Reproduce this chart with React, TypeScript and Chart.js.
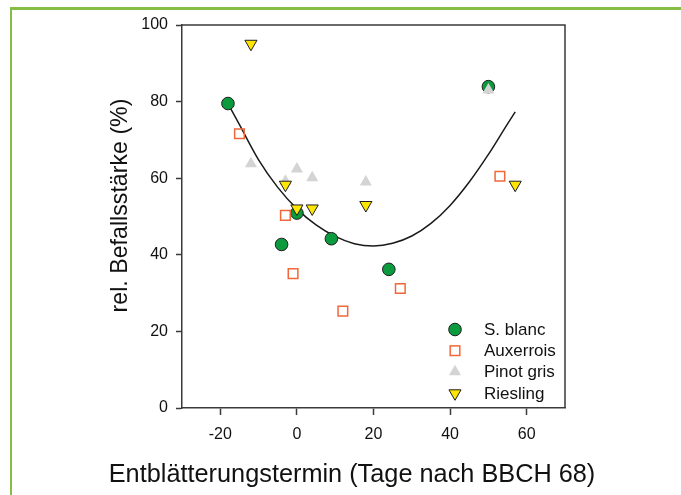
import React, { useEffect, useRef } from 'react';
import { Chart, registerables } from 'chart.js';

Chart.register(...registerables);

// ---- data ----
const sBlancX = [-18, -4, 0, 9, 24, 50];
const sBlancY = [79.5, 42.7, 50.9, 44.2, 36.2, 83.9];
const auxerroisX = [-15, -3, -1, 12, 27, 53];
const auxerroisY = [71.6, 50.3, 35.1, 25.3, 31.2, 60.5];
const pinotGrisX = [-12, -3, 0, 4, 18, 50];
const pinotGrisY = [63.8, 59.2, 62.4, 60.1, 59.0, 83.0];
const rieslingX = [-12, -3, 0, 4, 18, 57];
const rieslingY = [95.1, 58.3, 52.1, 52.1, 53.0, 58.3];
// quadratic regression curve
const fitX = [-18, -15, -10, -5, 0, 5, 10, 15, 20, 25, 30, 35, 40, 45, 50, 55, 57];
const fitY = [79.5, 74, 64.8, 57.6, 52.0, 47.8, 44.8, 42.9, 42.3, 43.0, 44.9, 48.2, 52.9, 59.0, 66.2, 74.2, 77.3];
const xTicks = [-20, 0, 20, 40, 60];
const yTicks = [0, 20, 40, 60, 80, 100];
const seriesNames = ['S. blanc', 'Auxerrois', 'Pinot gris', 'Riesling'];
const xTitle = 'Entblätterungstermin (Tage nach BBCH 68)';
const yTitle = 'rel. Befallsstärke (%)';

const FONT = "'Liberation Sans', Arial, Helvetica, sans-serif";
const AXIS = '#3a3a3a';
const GREEN = '#0b9a3e';
const ORANGE = '#f2673a';
const GRAY = '#d4d4d4';
const YELLOW = '#ffe600';
const OUTLINE = '#1e1e1e';

const pts = (xs: number[], ys: number[]) => xs.map((x, i) => ({ x, y: ys[i] }));

function drawMarker(ctx: CanvasRenderingContext2D, kind: number, x: number, y: number) {
  ctx.save();
  if (kind === 0) {
    ctx.beginPath();
    ctx.arc(x, y, 6.3, 0, Math.PI * 2);
    ctx.fillStyle = GREEN;
    ctx.fill();
    ctx.lineWidth = 1;
    ctx.strokeStyle = OUTLINE;
    ctx.stroke();
  } else if (kind === 1) {
    ctx.lineWidth = 1.5;
    ctx.strokeStyle = ORANGE;
    ctx.strokeRect(x - 4.8, y - 4.8, 9.6, 9.6);
  } else if (kind === 2) {
    const r = 7;
    ctx.beginPath();
    ctx.moveTo(x, y - r);
    ctx.lineTo(x + r * 0.866, y + r / 2);
    ctx.lineTo(x - r * 0.866, y + r / 2);
    ctx.closePath();
    ctx.fillStyle = GRAY;
    ctx.fill();
  } else {
    const r = 7;
    ctx.beginPath();
    ctx.moveTo(x, y + r);
    ctx.lineTo(x + r * 0.866, y - r / 2);
    ctx.lineTo(x - r * 0.866, y - r / 2);
    ctx.closePath();
    ctx.fillStyle = YELLOW;
    ctx.fill();
    ctx.lineWidth = 1;
    ctx.strokeStyle = OUTLINE;
    ctx.stroke();
  }
  ctx.restore();
}

const decorPlugin = {
  id: 'decor',
  afterDraw(chart: any) {
    const { ctx, chartArea } = chart;
    const { left, top, right, bottom } = chartArea;
    ctx.save();
    // box (top and right sides)
    ctx.strokeStyle = AXIS;
    ctx.lineWidth = 1.5;
    ctx.beginPath();
    ctx.moveTo(left, top);
    ctx.lineTo(right, top);
    ctx.lineTo(right, bottom);
    ctx.stroke();

    // legend
    const rowY = [329.5, 350.7, 371.7, 393.3];
    ctx.font = `17px ${FONT}`;
    ctx.fillStyle = '#111';
    ctx.textBaseline = 'middle';
    ctx.textAlign = 'left';
    seriesNames.forEach((name, i) => {
      drawMarker(ctx, i, 455, rowY[i]);
      ctx.fillText(name, 484, rowY[i] + 1);
    });

    // axis titles
    ctx.fillStyle = '#111';
    ctx.font = `25.3px ${FONT}`;
    ctx.textAlign = 'center';
    ctx.textBaseline = 'alphabetic';
    ctx.fillText(xTitle, 352, 482);

    ctx.translate(127, 205.5);
    ctx.rotate(-Math.PI / 2);
    ctx.font = `23.2px ${FONT}`;
    ctx.fillText(yTitle, 0, 0);
    ctx.restore();
  },
};

export default function App() {
  const canvasRef = useRef<HTMLCanvasElement | null>(null);

  useEffect(() => {
    const canvas = canvasRef.current;
    if (!canvas) return;
    const tickFont = { family: FONT, size: 16 };
    const chart = new Chart(canvas, {
      type: 'scatter',
      data: {
        datasets: [
          {
            label: 'fit',
            data: pts(fitX, fitY),
            showLine: true,
            pointRadius: 0,
            borderColor: '#1a1a1a',
            borderWidth: 1.5,
            cubicInterpolationMode: 'monotone',
            order: 5,
          } as any,
          {
            label: seriesNames[0],
            data: pts(sBlancX, sBlancY),
            pointStyle: 'circle',
            pointRadius: 6.3,
            pointBackgroundColor: GREEN,
            pointBorderColor: OUTLINE,
            pointBorderWidth: 1,
            order: 4,
          },
          {
            label: seriesNames[1],
            data: pts(auxerroisX, auxerroisY),
            pointStyle: 'rect',
            pointRadius: 6.8,
            pointBackgroundColor: 'rgba(255,255,255,0)',
            pointBorderColor: ORANGE,
            pointBorderWidth: 1.5,
            order: 3,
          },
          {
            label: seriesNames[2],
            data: pts(pinotGrisX, pinotGrisY),
            pointStyle: 'triangle',
            pointRadius: 7,
            pointBackgroundColor: GRAY,
            pointBorderColor: GRAY,
            pointBorderWidth: 0,
            order: 2,
          },
          {
            label: seriesNames[3],
            data: pts(rieslingX, rieslingY),
            pointStyle: 'triangle',
            pointRotation: 180,
            pointRadius: 7,
            pointBackgroundColor: YELLOW,
            pointBorderColor: OUTLINE,
            pointBorderWidth: 1,
            order: 1,
          },
        ],
      },
      options: {
        responsive: false,
        animation: false,
        layout: { padding: { left: 0, top: 25, right: 116, bottom: 0 } },
        plugins: { legend: { display: false }, tooltip: { enabled: false } },
        scales: {
          x: {
            type: 'linear',
            min: -30,
            max: 70,
            afterBuildTicks: (s: any) => {
              s.ticks = xTicks.map((v) => ({ value: v }));
            },
            afterFit: (s: any) => {
              s.height = 87;
            },
            grid: { drawOnChartArea: false, drawTicks: true, tickLength: 7, tickColor: AXIS, tickWidth: 1.5 },
            border: { color: AXIS, width: 1.5 },
            ticks: { color: '#111', font: tickFont, padding: 10, maxRotation: 0, autoSkip: false },
          },
          y: {
            type: 'linear',
            min: 0,
            max: 100,
            afterBuildTicks: (s: any) => {
              s.ticks = yTicks.map((v) => ({ value: v }));
            },
            afterFit: (s: any) => {
              s.width = 182;
            },
            grid: { drawOnChartArea: false, drawTicks: true, tickLength: 6, tickColor: AXIS, tickWidth: 1.5 },
            border: { color: AXIS, width: 1.5 },
            ticks: { color: '#111', font: tickFont, padding: 8, autoSkip: false },
          },
        },
      } as any,
      plugins: [decorPlugin],
    });
    return () => chart.destroy();
  }, []);

  return (
    <div style={{ position: 'absolute', left: 0, top: 0, width: 681, height: 495, background: '#fff' }}>
      <div
        style={{
          position: 'absolute',
          left: 10,
          top: 7,
          width: 700,
          height: 520,
          borderTop: '3px solid #86bd45',
          borderLeft: '2.5px solid #86bd45',
        }}
      />
      <canvas ref={canvasRef} width={681} height={495} style={{ position: 'absolute', left: 0, top: 0 }} />
    </div>
  );
}
